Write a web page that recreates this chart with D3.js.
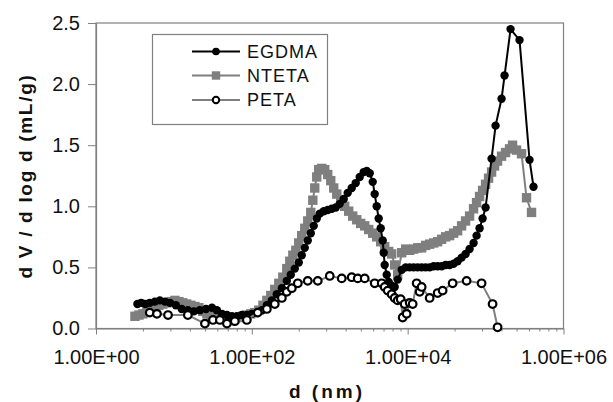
<!DOCTYPE html>
<html><head><meta charset="utf-8">
<script src="https://cdn.jsdelivr.net/npm/d3@7"></script>
<style>body{margin:0;background:#fff} svg{display:block}</style>
</head><body>
<svg id="c" width="613" height="402"></svg>
<script>
// d (nm), dV/dlogd (mL/g)
const egdmaData = [[3.4,0.20],[3.8,0.21],[4.3,0.20],[4.9,0.21],[5.7,0.22],[6.6,0.23],[7.7,0.22],[8.9,0.21],[10.6,0.19],[12.6,0.16],
[15.1,0.15],[18,0.14],[21.5,0.15],[25.8,0.16],[30.8,0.17],[35.6,0.15],[41.3,0.12],[47.9,0.11],[55.4,0.10],[64.2,0.10],
[74.5,0.11],[86.3,0.11],[100,0.12],[116,0.13],[135,0.15],[156,0.19],[180,0.23],[209,0.28],[243,0.33],[281,0.39],
[316,0.44],[356,0.49],[400,0.54],[437,0.60],[478,0.66],[522,0.72],[571,0.78],[623,0.84],[681,0.90],[744,0.94],
[837,0.96],[942,0.97],[1061,0.98],[1194,0.99],[1343,1.02],[1511,1.06],[1701,1.11],[1914,1.15],[2155,1.19],[2424,1.24],
[2727,1.28],[2981,1.29],[3257,1.27],[3560,1.20],[3775,1.10],[4005,1.00],[4247,0.90],[4507,0.82],[4783,0.72],[4923,0.62],
[5072,0.52],[5381,0.44],[5706,0.38],[6236,0.35],[6813,0.34],[7447,0.40],[8379,0.48],[9426,0.50],[10608,0.50],[11934,0.50],
[13439,0.50],[15120,0.50],[17013,0.50],[19144,0.50],[21537,0.51],[24253,0.51],[27287,0.51],[30702,0.52],[34549,0.52],[38868,0.53],
[43768,0.55],[49244,0.58],[55408,0.61],[62349,0.65],[70143,0.70],[76673,0.76],[83758,0.82],[91547,0.90],[99991,0.99],[119382,1.39],
[134324,1.66],[160372,1.88],[175190,2.07],[209144,2.45],[272770,2.36],[366430,1.38],[412234,1.16]];

const ntetaData = [[3.16,0.10],[3.56,0.11],[4.0,0.12],[4.5,0.14],[5.07,0.16],[5.7,0.18],[6.4,0.19],[7.2,0.20],[8.1,0.21],[9.2,0.22],
[10.3,0.23],[11.6,0.22],[13.0,0.21],[14.6,0.20],[16.5,0.19],[18.6,0.18],[20.9,0.17],[23.5,0.14],[26.5,0.12],[29.9,0.10],
[33.6,0.09],[37.8,0.08],[42.5,0.08],[47.9,0.08],[53.8,0.08],[60.5,0.08],[68.1,0.09],[76.7,0.10],[86.3,0.11],[97,0.12],
[109,0.13],[123,0.15],[139,0.19],[156,0.23],[175,0.27],[197,0.32],[222,0.37],[250,0.42],[281,0.49],[307,0.55],
[336,0.60],[367,0.64],[400,0.70],[437,0.76],[478,0.82],[522,0.88],[571,0.95],[606,1.05],[642,1.15],[681,1.24],
[722,1.30],[789,1.31],[862,1.30],[942,1.26],[1030,1.21],[1125,1.15],[1230,1.10],[1383,1.04],[1556,1.00],[1750,0.96],
[1972,0.92],[2220,0.89],[2497,0.86],[2810,0.84],[3161,0.81],[3560,0.78],[4005,0.75],[4507,0.71],[5072,0.67],[5706,0.63],
[6236,0.61],[6813,0.52],[7447,0.44],[8379,0.62],[9426,0.65],[10608,0.64],[11934,0.65],[13439,0.66],[15120,0.66],[17013,0.68],
[19144,0.69],[21537,0.70],[24253,0.71],[27287,0.73],[30702,0.75],[34549,0.76],[38868,0.78],[43768,0.80],[49244,0.84],[55408,0.88],
[62349,0.92],[70143,0.98],[76673,1.03],[83758,1.08],[91547,1.13],[99991,1.18],[109214,1.23],[119382,1.28],[130412,1.33],[142540,1.37],
[160372,1.41],[180446,1.44],[203052,1.47],[221936,1.50],[249699,1.46],[289409,1.43],[335435,1.07],[388782,0.95]];

const petaData = [[4.9,0.13],[6.06,0.12],[8.4,0.11],[15.1,0.11],[25,0.04],[31.7,0.07],[38.9,0.07],[47.9,0.04],[60.5,0.06],[86.3,0.07],
[119,0.13],[156,0.16],[197,0.20],[243,0.25],[281,0.30],[326,0.33],[389,0.37],[522,0.39],[702,0.39],[1000,0.43],
[1425,0.41],[1914,0.42],[2287,0.41],[2810,0.41],[3775,0.37],[4643,0.37],[5072,0.34],[5544,0.31],[6236,0.28],[6813,0.25],
[7447,0.23],[8134,0.24],[8626,0.09],[9152,0.20],[9710,0.12],[10608,0.21],[11594,0.20],[13045,0.37],[14251,0.30],[15120,0.34],
[19144,0.25],[24253,0.29],[28110,0.31],[37762,0.37],[57075,0.39],[88867,0.37],[122982,0.20],[142540,0.01]];

const seriesNames = ["EGDMA","NTETA","PETA"];
const yTicks = [0,0.5,1.0,1.5,2.0,2.5];
const xTicks = [1,100,10000,1000000];
const xTickLabels = ["1.00E+00","1.00E+02","1.00E+04","1.00E+06"];
const xTitle = "d (nm)";
const yTitle = "d V / d log d (mL/g)";

const AX = "#808080", GRAY = "#7f7f7f";
const FONT = "'Liberation Sans', Arial, sans-serif";
const svg = d3.select("#c");
const x = d3.scaleLog().domain([1,1e6]).range([96,563.5]);
const y = d3.scaleLinear().domain([0,2.5]).range([328.5,23]);

// frame
svg.append("rect").attr("x",96).attr("y",23).attr("width",563.5-96).attr("height",328.5-23)
  .attr("fill","none").attr("stroke",AX).attr("stroke-width",1.2);

// minor ticks (k^2 within each major step of 100)
const minor = [];
xTicks.slice(0,-1).forEach(b => { for (let k=2;k<=9;k++) minor.push(b*k*k); });
svg.append("g").attr("transform","translate(0,328.5)")
  .call(d3.axisBottom(x).tickValues(minor).tickSize(3).tickSizeOuter(0).tickFormat(""))
  .call(g=>{g.select(".domain").remove(); g.selectAll("line").attr("stroke",AX);});

const xa = svg.append("g").attr("transform","translate(0,328.5)")
  .call(d3.axisBottom(x).tickValues(xTicks).tickSize(6).tickSizeOuter(0).tickPadding(15)
    .tickFormat((d,i)=>xTickLabels[i]));
xa.select(".domain").attr("stroke",AX).attr("stroke-width",1.2);
xa.selectAll("line").attr("stroke",AX);
xa.selectAll("text").attr("font-family",FONT).attr("font-size",20).attr("fill","#111");

const ya = svg.append("g").attr("transform","translate(96,0)")
  .call(d3.axisLeft(y).tickValues(yTicks).tickSize(8).tickSizeOuter(0).tickPadding(8)
    .tickFormat(d3.format(".1f")));
ya.select(".domain").attr("stroke",AX).attr("stroke-width",1.2);
ya.selectAll("line").attr("stroke",AX);
ya.selectAll("text").attr("font-family",FONT).attr("font-size",20).attr("fill","#111");

// titles
svg.append("text").attr("x",327).attr("y",398).attr("text-anchor","middle")
  .attr("font-family",FONT).attr("font-size",19).attr("font-weight","bold")
  .attr("letter-spacing","3px").attr("fill","#111").text(xTitle);
svg.append("text").attr("transform","translate(32,176) rotate(-90)").attr("text-anchor","middle")
  .attr("font-family",FONT).attr("font-size",19).attr("font-weight","bold")
  .attr("letter-spacing","1.7px").attr("fill","#111").text(yTitle);

const line = d3.line().x(d=>x(d[0])).y(d=>y(d[1]));

// NTETA
svg.append("path").datum(ntetaData).attr("d",line).attr("fill","none").attr("stroke",GRAY).attr("stroke-width",2);
svg.append("g").selectAll("rect").data(ntetaData).join("rect")
  .attr("x",d=>x(d[0])-4.7).attr("y",d=>y(d[1])-4.7).attr("width",9.4).attr("height",9.4).attr("fill",GRAY);
// EGDMA
svg.append("path").datum(egdmaData).attr("d",line).attr("fill","none").attr("stroke","#000").attr("stroke-width",2);
svg.append("g").selectAll("circle").data(egdmaData).join("circle")
  .attr("cx",d=>x(d[0])).attr("cy",d=>y(d[1])).attr("r",4.2).attr("fill","#000");
// PETA
svg.append("path").datum(petaData).attr("d",line).attr("fill","none").attr("stroke",GRAY).attr("stroke-width",2);
svg.append("g").selectAll("circle").data(petaData).join("circle")
  .attr("cx",d=>x(d[0])).attr("cy",d=>y(d[1])).attr("r",3.8).attr("fill","#fff").attr("stroke","#000").attr("stroke-width",2.2);

// legend
const lg = svg.append("g");
lg.append("rect").attr("x",152.5).attr("y",34.5).attr("width",175).attr("height",90)
  .attr("fill","#fff").attr("stroke",AX).attr("stroke-width",1.2);
const ly = [51.5,75.5,100];
seriesNames.forEach((name,i)=>{
  const col = i===0 ? "#000" : GRAY;
  lg.append("line").attr("x1",192).attr("x2",240).attr("y1",ly[i]).attr("y2",ly[i]).attr("stroke",col).attr("stroke-width",2);
  if (i===0) lg.append("circle").attr("cx",216).attr("cy",ly[i]).attr("r",3.8).attr("fill","#000");
  if (i===1) lg.append("rect").attr("x",216-4.2).attr("y",ly[i]-4.2).attr("width",8.4).attr("height",8.4).attr("fill",GRAY);
  if (i===2) lg.append("circle").attr("cx",216).attr("cy",ly[i]).attr("r",3.2).attr("fill","#fff").attr("stroke","#000").attr("stroke-width",2);
  lg.append("text").attr("x",247).attr("y",ly[i]+6.3).attr("font-family",FONT).attr("font-size",18)
    .attr("letter-spacing","1px").attr("fill","#111").text(name);
});
</script>
</body></html>
